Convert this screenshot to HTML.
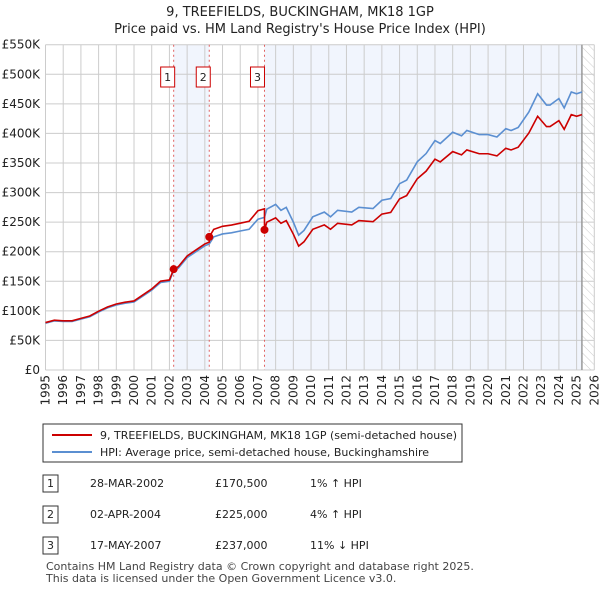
<!DOCTYPE html>
<html><head><meta charset="utf-8"><style>
body{margin:0;background:#fff;font-family:"Liberation Sans","DejaVu Sans",sans-serif;}
svg text{font-family:"DejaVu Sans","Liberation Sans",sans-serif;}
</style></head><body>
<svg width="600" height="590" viewBox="0 0 600 590" xmlns="http://www.w3.org/2000/svg">
<defs><pattern id="hatch" width="6" height="6" patternUnits="userSpaceOnUse" patternTransform="rotate(-45)"><line x1="0" y1="0" x2="0" y2="6" stroke="#ccc" stroke-width="1"/></pattern></defs>
<text x="300" y="16" text-anchor="middle" font-size="13" fill="#222">9, TREEFIELDS, BUCKINGHAM, MK18 1GP</text>
<text x="300" y="33" text-anchor="middle" font-size="13" fill="#222">Price paid vs. HM Land Registry's House Price Index (HPI)</text>
<g id="plot"></g>
<g>
<rect x="43" y="424" width="419" height="38" fill="#fff" stroke="#333"/>
<line x1="52" y1="435" x2="92" y2="435" stroke="#cc0000" stroke-width="2"/>
<text x="100" y="439" font-size="11" fill="#222">9, TREEFIELDS, BUCKINGHAM, MK18 1GP (semi-detached house)</text>
<line x1="52" y1="452" x2="92" y2="452" stroke="#5b8fd1" stroke-width="2"/>
<text x="100" y="456" font-size="11" fill="#222">HPI: Average price, semi-detached house, Buckinghamshire</text>
</g>
<g font-size="11" fill="#222">
<rect x="43" y="475" width="15" height="17" fill="#fff" stroke="#333"/><text x="50.5" y="487" text-anchor="middle">1</text>
<text x="90" y="487">28-MAR-2002</text><text x="215" y="487">£170,500</text><text x="310" y="487">1% ↑ HPI</text>
<rect x="43" y="506" width="15" height="17" fill="#fff" stroke="#333"/><text x="50.5" y="518" text-anchor="middle">2</text>
<text x="90" y="518">02-APR-2004</text><text x="215" y="518">£225,000</text><text x="310" y="518">4% ↑ HPI</text>
<rect x="43" y="537" width="15" height="17" fill="#fff" stroke="#333"/><text x="50.5" y="549" text-anchor="middle">3</text>
<text x="90" y="549">17-MAY-2007</text><text x="215" y="549">£237,000</text><text x="310" y="549">11% ↓ HPI</text>
</g>
<text x="46" y="570" font-size="11" fill="#444">Contains HM Land Registry data © Crown copyright and database right 2025.</text>
<text x="46" y="582" font-size="11" fill="#444">This data is licensed under the Open Government Licence v3.0.</text>
</svg>
<script>
const hpiT=[1995,1995.5,1996,1996.5,1997,1997.5,1998,1998.5,1999,1999.5,2000,2000.5,2001,2001.5,2002,2002.24,2002.5,2003,2003.5,2004,2004.25,2004.5,2005,2005.5,2006,2006.5,2007,2007.37,2007.5,2008,2008.3,2008.6,2009,2009.3,2009.6,2010.1,2010.75,2011.1,2011.5,2012.3,2012.7,2013.5,2014,2014.5,2015,2015.4,2016,2016.5,2017,2017.3,2018,2018.5,2018.8,2019.5,2020,2020.5,2021,2021.3,2021.7,2022.3,2022.8,2023.3,2023.5,2024,2024.3,2024.7,2025,2025.3];
const hpiV=[79,83,82,82,86,90,98,105,110,113,115,125,135,148,150,168,172,190,200,210,213,225,230,232,235,238,255,258,272,280,270,275,250,228,236,259,267,259,270,267,275,273,287,290,315,321,352,366,388,383,402,396,405,398,398,394,408,405,410,436,467,448,448,459,443,470,467,470];
const saleT=[2002.24,2004.25,2007.37];
const saleV=[170.5,225,237];
const saleLabels=["1","2","3"];
const yTicks=[0,50,100,150,200,250,300,350,400,450,500,550];
const yTickLabels=["£0","£50K","£100K","£150K","£200K","£250K","£300K","£350K","£400K","£450K","£500K","£550K"];
const xTicks=[1995,1996,1997,1998,1999,2000,2001,2002,2003,2004,2005,2006,2007,2008,2009,2010,2011,2012,2013,2014,2015,2016,2017,2018,2019,2020,2021,2022,2023,2024,2025,2026];
const dataEnd=2025.3;
const X=t=>45.5+(t-1995)*(594.3-45.5)/31;
const Y=v=>370-v*(370-44.7)/550;
const NS="http://www.w3.org/2000/svg";
const g=document.getElementById('plot');
function mk(tag,attrs,parent){const e=document.createElementNS(NS,tag);for(const k in attrs)e.setAttribute(k,attrs[k]);(parent||g).appendChild(e);return e;}
function hpiAt(t){for(let i=0;i<hpiT.length-1;i++){if(t<=hpiT[i+1]){const f=(t-hpiT[i])/(hpiT[i+1]-hpiT[i]);return hpiV[i]+f*(hpiV[i+1]-hpiV[i]);}}return hpiV[hpiV.length-1];}
// shaded ownership periods
let s1=mk('rect',{x:X(saleT[0]),y:Y(550),width:X(saleT[1])-X(saleT[0]),height:Y(0)-Y(550),fill:'#eef3fc',opacity:0.8});

let s2=mk('rect',{x:X(saleT[2]),y:Y(550),width:X(dataEnd)-X(saleT[2]),height:Y(0)-Y(550),fill:'#eef3fc',opacity:0.8});

let hz=mk('rect',{x:X(dataEnd),y:Y(550),width:X(2026)-X(dataEnd),height:Y(0)-Y(550),fill:'url(#hatch)'});

// grid
yTicks.forEach((v,i)=>{let l=mk('line',{x1:X(1995),x2:X(2026),y1:Y(v),y2:Y(v),stroke:'#ccc'});

let t=mk('text',{x:40,y:Y(v)+4,'text-anchor':'end','font-size':12,fill:'#222'});t.textContent=yTickLabels[i];
});
xTicks.forEach(yr=>{let l=mk('line',{x1:X(yr),x2:X(yr),y1:Y(550),y2:Y(0),stroke:'#ccc'});

let t=mk('text',{transform:`translate(${X(yr)+4},375) rotate(-90)`,'text-anchor':'end','font-size':12,fill:'#222'});t.textContent=yr;
});
let vl=mk('line',{x1:X(dataEnd),x2:X(dataEnd),y1:Y(550),y2:Y(0),stroke:'#999','stroke-width':1.5});

// sale markers lines & labels
saleT.forEach((t,i)=>{let l=mk('line',{x1:X(t),x2:X(t),y1:Y(550),y2:Y(0),stroke:'#e06060','stroke-dasharray':'2,3'});

let off=i===2?-4:-3;
let r=mk('rect',{x:X(t)+off-10,y:67,width:14,height:20,fill:'#fff',stroke:'#cc0000'});

let tx=mk('text',{x:X(t)+off-3,y:81,'text-anchor':'middle','font-size':11,fill:'#222'});tx.textContent=saleLabels[i];
});
// HPI line
let hp=mk('polyline',{points:hpiT.map((t,i)=>X(t)+','+Y(hpiV[i])).join(' '),fill:'none',stroke:'#5b8fd1','stroke-width':1.6});

// property line: HPI rescaled at each sale
const ratio=saleT.map((t,i)=>saleV[i]/hpiAt(t));
let pts=[];
hpiT.forEach((t,i)=>{let k=0;for(let j=0;j<saleT.length;j++)if(t>=saleT[j])k=j;
let r=t<saleT[0]?ratio[0]:ratio[k];
pts.push(X(t)+','+Y(hpiV[i]*r));
if(saleT.indexOf(t)>0){pts.splice(pts.length-1,0,X(t)+','+Y(hpiV[i]*ratio[saleT.indexOf(t)-1]));}});
let rp=mk('polyline',{points:pts.join(' '),fill:'none',stroke:'#cc0000','stroke-width':1.6});

saleT.forEach((t,i)=>{let c=mk('circle',{cx:X(t),cy:Y(saleV[i]),r:4,fill:'#cc0000'});
});
</script>
</body></html>
